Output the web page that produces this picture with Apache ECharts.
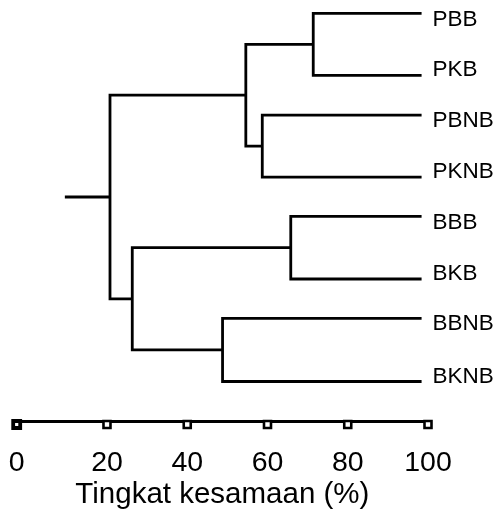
<!DOCTYPE html>
<html><head><meta charset="utf-8">
<script src="https://cdn.jsdelivr.net/npm/echarts@6/dist/echarts.min.js"></script>
<style>html,body{margin:0;padding:0;background:#fff}#c{width:500px;height:516px}</style>
</head><body><div id="c"></div>
<script>
// Leaves (top to bottom) and their row position on the vertical axis
const leaves = ['PBB', 'PKB', 'PBNB', 'PKNB', 'BBB', 'BKB', 'BBNB', 'BKNB'];
const leafRow = [0, 1.01, 1.66, 2.67, 3.31, 4.33, 4.97, 6.0];
const leafSim = 98.4;           // leaves end here (similarity %)
// Merges: [child A, child B, similarity %]; 'mN' refers to merge N
const mergeA = ['PBB', 'PBNB', 'm0', 'BBB', 'BBNB', 'm3', 'm2'];
const mergeB = ['PKB', 'PKNB', 'm1', 'BKB', 'BKNB', 'm4', 'm5'];
const mergeSim = [71.4, 58.7, 54.6, 65.8, 48.8, 26.3, 20.75];
const rootStart = 9.5;
const tickLabels = ['0', '20', '40', '60', '80', '100'];
const tickValues = [0, 20, 40, 60, 80, 100];
const axisMin = -2.5;

const FONT = 'Liberation Sans, Arial, sans-serif';
const nodes = {};
leaves.forEach((n, i) => { nodes[n] = { x: leafSim, y: leafRow[i] }; });
const series = [];
const lineStyle = { color: '#000', width: 2.8, cap: 'butt', join: 'miter' };
const firstChild = {};
mergeSim.forEach((s, i) => {
  const a = nodes[mergeA[i]], b = nodes[mergeB[i]];
  firstChild[mergeA[i]] = true;
  const node = { x: s, y: (a.y + b.y) / 2 };
  nodes['m' + i] = node;
  series.push({
    type: 'line', xAxisIndex: 0, yAxisIndex: 0, symbol: 'none', silent: true,
    lineStyle, data: [[a.x, a.y], [s, a.y], [s, b.y], [b.x, b.y]]
  });
});
const root = nodes['m' + (mergeSim.length - 1)];
series.push({
  type: 'line', xAxisIndex: 0, yAxisIndex: 0, symbol: 'none', silent: true,
  lineStyle, data: [[rootStart, root.y], [root.x, root.y]]
});
series.push({
  type: 'scatter', xAxisIndex: 0, yAxisIndex: 0, silent: true,
  symbolSize: 0, itemStyle: { color: '#000' },
  data: leaves.map((n, i) => ({
    name: n, value: [leafSim, leafRow[i]],
    label: { offset: [0, firstChild[n] ? 6 : -5] }
  })),
  label: {
    show: true, position: 'right', distance: 11, formatter: '{b}',
    fontSize: 22.5, fontFamily: FONT, color: '#000', opacity: 1
  }
});
const tickPos = tickValues.map(v => v === 0 ? axisMin : v);
series.push({
  type: 'scatter', xAxisIndex: 1, yAxisIndex: 1, silent: true,
  symbol: 'rect', symbolSize: 7, symbolOffset: [0, 3.5],
  data: tickPos.map((v, i) => ({
    value: [v, 0],
    itemStyle: { borderWidth: i === 0 ? 3.8 : 2.6 }
  })),
  itemStyle: { color: '#fff', borderColor: '#000', borderWidth: 2.6, opacity: 1 },
  z: 5
});

const chart = echarts.init(document.getElementById('c'), null, { renderer: 'canvas' });
chart.setOption({
  animation: false,
  backgroundColor: '#fff',
  grid: [
    { left: 16.7, width: 411.3, top: 13.3, height: 368.2 },
    { left: 16.7, width: 411.3, top: 401, height: 20 }
  ],
  xAxis: [
    { gridIndex: 0, type: 'value', min: axisMin, max: 100, show: false },
    {
      gridIndex: 1, type: 'value', min: axisMin, max: 100, position: 'bottom',
      axisLine: { show: true, onZero: false, lineStyle: { color: '#000', width: 3 } },
      axisTick: { show: false }, splitLine: { show: false },
      axisLabel: {
        customValues: tickPos, margin: 42, verticalAlign: 'middle',
        fontSize: 28.5, fontFamily: FONT, color: '#000',
        formatter: v => tickLabels[tickPos.indexOf(v)] ?? ''
      },
      name: 'Tingkat kesamaan (%)', nameLocation: 'middle', nameGap: 74,
      nameTextStyle: { fontSize: 29.5, fontFamily: FONT, color: '#000', verticalAlign: 'middle' }
    }
  ],
  yAxis: [
    { gridIndex: 0, type: 'value', min: 0, max: 6, inverse: true, show: false },
    { gridIndex: 1, type: 'value', min: 0, max: 1, show: false }
  ],
  series
});
</script>
</body></html>
